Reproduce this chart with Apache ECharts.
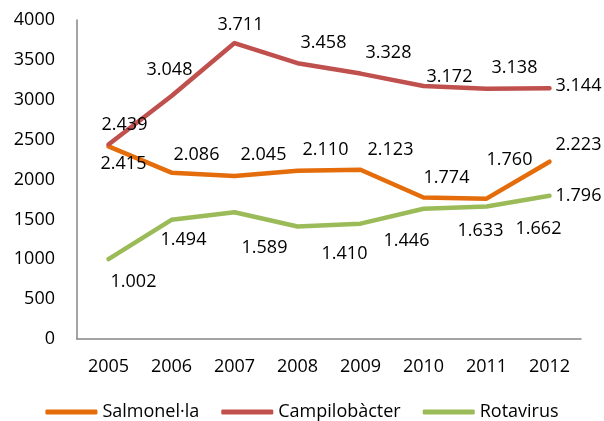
<!DOCTYPE html>
<html>
<head>
<meta charset="utf-8">
<script src="https://cdn.jsdelivr.net/npm/echarts@6/dist/echarts.min.js"></script>
<style>
  html, body { margin: 0; padding: 0; background: #fff; }
  #chart { width: 604px; height: 421px; }
</style>
</head>
<body>
<div id="chart"></div>
<script>
var years = ['2005', '2006', '2007', '2008', '2009', '2010', '2011', '2012'];
var salmonella = [2415, 2086, 2045, 2110, 2123, 1774, 1760, 2223];
var campilobacter = [2439, 3048, 3711, 3458, 3328, 3172, 3138, 3144];
var rotavirus = [1002, 1494, 1589, 1410, 1446, 1633, 1662, 1796];

// label placement (offset of label centre from the point, px)
var salmonellaOffsets = [[15, 17], [25, -18], [29, -21], [28, -21], [30, -20], [23, -20], [23, -39], [29, -17]];
var campilobacterOffsets = [[16, -20], [-2, -26], [6, -18], [26, -20], [28, -21], [26, -9], [28, -21], [29, -2]];
var rotavirusOffsets = [[25, 23], [12, 20], [30, 36], [47, 27], [46, 17], [57, 22], [52, 22], [29, 0]];

var font = '"Open Sans", sans-serif';

function fmt(v) {
  return String(v).replace(/\B(?=(\d{3})+$)/g, '.');
}

function makeSeries(name, values, offsets, color) {
  return {
    name: name,
    type: 'line',
    symbol: 'circle',
    symbolSize: 1,
    itemStyle: { color: color },
    lineStyle: { color: color, width: 4.5, cap: 'round', join: 'round' },
    emphasis: { disabled: true },
    data: values.map(function (v, i) {
      return {
        value: v,
        label: { offset: offsets[i] }
      };
    }),
    label: {
      show: true,
      position: 'inside',
      color: '#000',
      fontFamily: font,
      fontSize: 18,
      formatter: function (p) { return fmt(p.value); }
    }
  };
}

var chart = echarts.init(document.getElementById('chart'));
chart.setOption({
  animation: false,
  grid: { left: 77, right: 23, top: 20, bottom: 82 },
  legend: {
    top: 398,
    left: 'center',
    icon: 'roundRect',
    itemWidth: 52,
    itemHeight: 5,
    itemGap: 22,
    textStyle: { fontFamily: font, fontSize: 18, color: '#000' },
    data: ['Salmonel·la', 'Campilobàcter', 'Rotavirus']
  },
  xAxis: {
    type: 'category',
    data: years,
    boundaryGap: true,
    axisLine: { lineStyle: { color: '#868686', width: 1.5 } },
    axisTick: { show: false },
    axisLabel: { color: '#000', fontFamily: font, fontSize: 18, margin: 19 }
  },
  yAxis: {
    type: 'value',
    min: 0,
    max: 4000,
    interval: 500,
    axisLine: { show: true, lineStyle: { color: '#868686', width: 1.5 } },
    axisTick: { show: false },
    splitLine: { show: false },
    axisLabel: {
      color: '#000',
      fontFamily: font,
      fontSize: 18,
      margin: 22,
      formatter: function (v) { return String(v); }
    }
  },
  series: [
    makeSeries('Salmonel·la', salmonella, salmonellaOffsets, '#E46C0A'),
    makeSeries('Campilobàcter', campilobacter, campilobacterOffsets, '#C0504D'),
    makeSeries('Rotavirus', rotavirus, rotavirusOffsets, '#9BBB59')
  ]
});
</script>
</body>
</html>
